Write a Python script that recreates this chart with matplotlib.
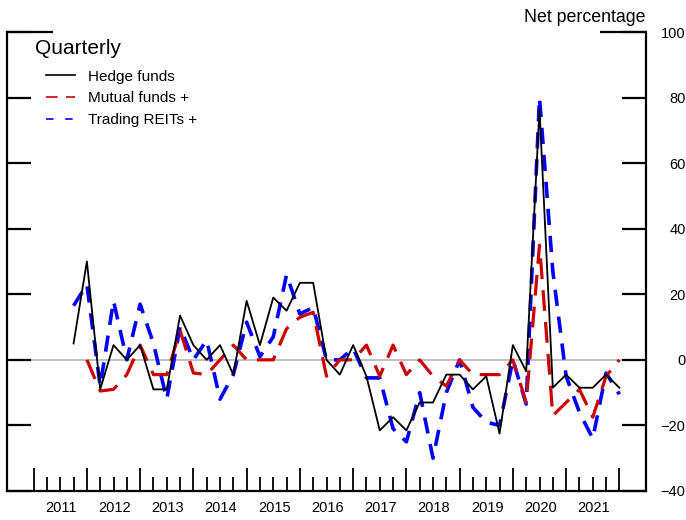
import matplotlib
matplotlib.use("Agg")
import matplotlib.pyplot as plt
from matplotlib.lines import Line2D
import numpy as np
import pandas as pd

plt.rcParams["font.family"] = ["Liberation Sans", "DejaVu Sans"]

# DATA
# -----------------------------------------------
quarters = pd.period_range("2011Q4", "2022Q1", freq="Q")

hedge_funds = [5, 30, -9, 4.5, 0, 4.5, -9, -9, 13.5, 4.5, 0, 4.5, -4.5, 18,
               4.5, 19, 15, 23.5, 23.5, 0, -4.5, 4.5, -5, -21.5, -17.5, -21.5,
               -13, -13, -4.5, -4.5, -9, -5, -22.5, 4.5, -3.5, 76.5, -8.5,
               -4.5, -8.5, -8.5, -4.5, -8.5]

mutual_funds = [np.nan, 0, -9.5, -9, -4.5, 4.5, -4.5, -4.5, 9, -4, -4.5, 0,
                4.5, 0, 0, 0, 9.5, 13, 14.5, -5, 0, 0, 4.5, -5, 4.5, -4.5, 0,
                -5, -8, 0, -4.5, -4.5, -4.5, 0, -13, 35, -17, -13, -9, -17.5,
                -5, 0]

trading_reits = [16.5, 23, -8, 18, 0, 17, 5, -12, 10, 0, 6, -12, -4.5, 11.5,
                 1, 7, 26, 14, 16, 0, 0, 3.5, -5.5, -5.5, -21, -25, -10, -30,
                 -10, 0, -14.5, -19, -20, 0, -13.5, 80, 27, -5, -16, -24, -4,
                 -10.5]

years = list(range(2011, 2022))
y_ticks = [-40, -20, 0, 20, 40, 60, 80, 100]

x = np.array([q.year + (q.quarter - 1) / 4 for q in quarters])

# PLOTTING
# -----------------------------------------------
fig = plt.figure(figsize=(6.86, 5.2), dpi=100)
ax = fig.add_axes([7 / 686, 1 - 491 / 520, 639 / 686, 459 / 520])

ax.axhline(0, color="#c0c0c0", lw=1.4, zorder=1)
ax.plot(x, hedge_funds, color="black", lw=1.3, zorder=4)
ax.plot(x, mutual_funds, color="#cc0000", lw=2.3, dashes=(6.5, 3.5), zorder=3)
ax.plot(x, trading_reits, color="#0000ff", lw=2.6, dashes=(4.5, 3), zorder=2)

ax.set_xlim(2010.5, 2022.5)
ax.set_ylim(-40, 100)

for side in ["left", "right", "bottom"]:
    ax.spines[side].set_linewidth(1.6)
ax.spines["top"].set_visible(False)

# short segments at the top corners
for x0, x1 in [(0, 0.072), (0.928, 1)]:
    ax.plot([x0, x1], [1, 1], color="black", lw=1.6, transform=ax.transAxes,
            clip_on=False, solid_capstyle="butt")

ax.set_yticks(y_ticks)
ax.tick_params(axis="y", left=True, right=True, labelleft=False,
               labelright=True, direction="in", length=17.5, width=1.6,
               pad=28.5, labelsize=10.5)
for lab in ax.get_yticklabels():
    lab.set_horizontalalignment("right")

major = list(range(2011, 2023))
minor = [y + q / 4 for y in range(2011, 2022) for q in (1, 2, 3)]
ax.set_xticks(major)
ax.set_xticks(minor, minor=True)
ax.set_xticklabels([])
ax.tick_params(axis="x", which="major", direction="in", length=16.5, width=1.3)
ax.tick_params(axis="x", which="minor", direction="in", length=10, width=1.3)

for yr in years:
    ax.annotate(str(yr), xy=(yr + 0.5, 0), xycoords=("data", "axes fraction"),
                xytext=(1, -17), textcoords="offset pixels",
                ha="center", va="center", fontsize=10.5)

ax.annotate("Net percentage", xy=(1, 1), xycoords="axes fraction",
            xytext=(0, 14), textcoords="offset pixels",
            ha="right", va="center", fontsize=12.8)
ax.annotate("Quarterly", xy=(0, 1), xycoords="axes fraction",
            xytext=(28, -16), textcoords="offset pixels",
            ha="left", va="center", fontsize=15)

handles = [
    Line2D([], [], color="black", lw=1.2),
    Line2D([], [], color="#cc0000", lw=1.2, dashes=(7, 5)),
    Line2D([], [], color="#0000ff", lw=1.2, dashes=(4.5, 7)),
]
labels = ["Hedge funds", "Mutual funds +", "Trading REITs +"]
ax.legend(handles, labels, loc="upper left", bbox_to_anchor=(0.061, 0.918),
          frameon=False, fontsize=11, handlelength=1.9, handletextpad=0.85,
          labelspacing=0.5, borderpad=0, borderaxespad=0)

fig.savefig("out.png", dpi=100)
